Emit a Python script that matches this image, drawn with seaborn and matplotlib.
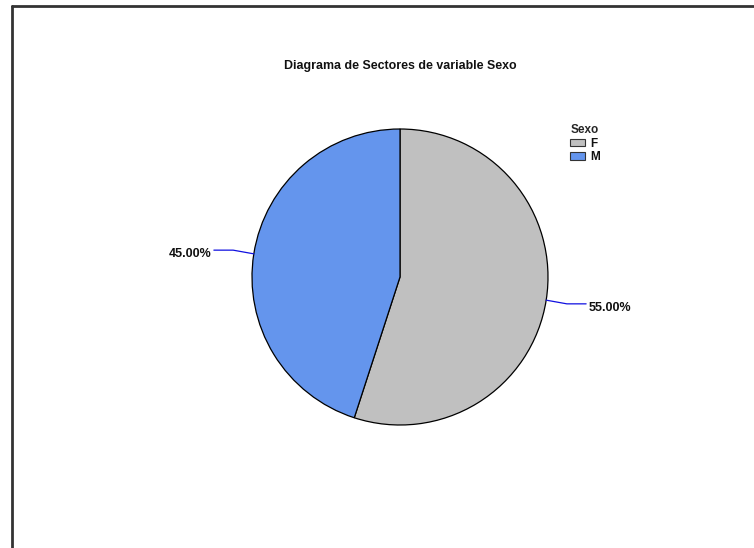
import numpy as np
import matplotlib
matplotlib.use("Agg")
import matplotlib.pyplot as plt
import seaborn as sns
from matplotlib.lines import Line2D

# data
categorias = ["F", "M"]
porcentajes = [55.0, 45.0]
colores = ["#C0C0C0", "#6495ED"]
titulo = "Diagrama de Sectores de variable Sexo"

sns.set_theme(style="white")
plt.rcParams["font.family"] = ["Liberation Sans", "DejaVu Sans"]

fig = plt.figure(figsize=(7.54, 5.48), dpi=100)
fig.patch.set_facecolor("white")

# frame lines (left and top only, like the cropped output window)
fig.add_artist(Line2D([11.5 / 754, 11.5 / 754], [0, 1 - 5.5 / 548], color="#333333", lw=2))
fig.add_artist(Line2D([11.5 / 754, 1], [1 - 5.5 / 548, 1 - 5.5 / 548], color="#333333", lw=2))

# pie axes: centre (400, 277) px, radius 148 px
W, H = 754, 548
cx, cy, r = 400, 277, 148
ax = fig.add_axes([(cx - r) / W, (H - cy - r) / H, 2 * r / W, 2 * r / H])
wedges, _ = ax.pie(porcentajes, colors=colores, startangle=90, counterclock=False,
                   radius=1, wedgeprops=dict(edgecolor="black", linewidth=0.9))
ax.set_xlim(-1, 1)
ax.set_ylim(-1, 1)
ax.set_aspect("equal")
ax.axis("off")

# percentage labels with leader lines
for w, p in zip(wedges, porcentajes):
    mid = np.deg2rad((w.theta1 + w.theta2) / 2)
    x0, y0 = np.cos(mid), np.sin(mid)
    s = np.sign(x0)
    x1, y1 = x0 + s * 0.14, y0 + 0.025 * np.sign(y0)
    x2 = x1 + s * 0.13
    ax.plot([x0, x1, x2], [y0, y1, y1], color="#1010E0", lw=0.9, clip_on=False)
    ax.text(x2 + s * 0.015, y1 - 0.025, f"{p:.2f}%", ha="left" if s > 0 else "right",
            va="center", fontsize=9, fontweight="bold", color="#111111")

fig.text(cx / W, 1 - 66 / H, titulo, ha="center", va="center", fontsize=8.9,
         fontweight="bold", color="#111111")

leg = ax.legend(wedges, categorias, title="Sexo", frameon=False,
                loc="upper left", bbox_to_anchor=(564 / W, 1 - 118 / H),
                bbox_transform=fig.transFigure, fontsize=8.5,
                handlelength=1.3, handleheight=0.65, handletextpad=0.4,
                labelspacing=0.15, borderpad=0,
                title_fontproperties={"weight": "bold", "size": 8.5})
for t in leg.get_texts():
    t.set_fontweight("bold")
    t.set_color("#111111")
for h in leg.legend_handles:
    h.set_edgecolor("#333333")
    h.set_linewidth(0.8)

fig.savefig("out.png", dpi=100, facecolor="white")
